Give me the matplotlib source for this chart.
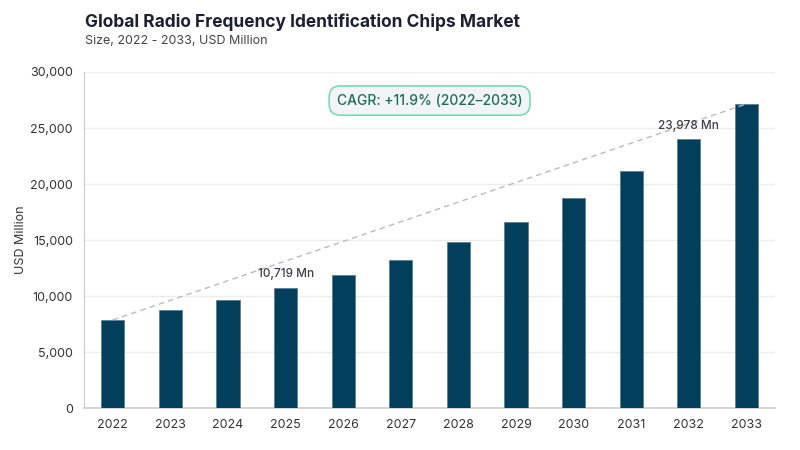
import matplotlib.pyplot as plt
from matplotlib.ticker import FuncFormatter

years = ['2022', '2023', '2024', '2025', '2026', '2027', '2028', '2029', '2030', '2031', '2032', '2033']
market_size = [7860, 8730, 9650, 10719, 11880, 13250, 14830, 16620, 18760, 21170, 23978, 27150]
labelled_years = ['2025', '2032']
cagr_text = 'CAGR: +11.9% (2022–2033)'

plt.rcParams['font.family'] = ['Inter', 'DejaVu Sans']

fig = plt.figure(figsize=(8, 4.5), dpi=100)
ax = fig.add_axes([0.105, 0.0933, 0.864, 0.7467])

x = list(range(len(years)))
ax.bar(x, market_size, width=0.4, color='#013f5c', edgecolor='#5f7f92', linewidth=0.6, zorder=3)

# dashed trend line from first to last bar
ax.plot([x[0], x[-1]], [market_size[0], market_size[-1]], linestyle=(0, (4, 3)),
        color='#bbbbbb', linewidth=1, zorder=4)

for i, yr in enumerate(years):
    if yr in labelled_years:
        ax.text(i, market_size[i] + 700, f'{market_size[i]:,} Mn', ha='center', va='bottom',
                fontsize=8.5, fontweight='medium', color='#3a3f4a', zorder=5)

ax.set_xlim(-0.5, len(years) - 0.5)
ax.set_ylim(0, 30000)
ax.set_yticks(range(0, 30001, 5000))
ax.yaxis.set_major_formatter(FuncFormatter(lambda v, p: f'{int(v):,}'))
ax.set_xticks(x)
ax.set_xticklabels(years)
ax.tick_params(axis='both', labelsize=9, colors='#333333', length=0)
ax.tick_params(axis='x', pad=8)
ax.tick_params(axis='y', pad=8)
ax.grid(axis='y', color='#ececec', linewidth=1, zorder=0)
for s in ['top', 'right']:
    ax.spines[s].set_visible(False)
ax.spines['left'].set_color('#c8ccd6')
ax.spines['bottom'].set_color('#c8ccd6')
ax.spines['bottom'].set_linewidth(1.2)
ax.set_ylabel('USD Million', fontsize=9, color='#333333')
ax.yaxis.set_label_coords(-0.082, 0.5)

ax.text(0.5, 0.915, cagr_text, transform=ax.transAxes, ha='center', va='center',
        fontsize=10, fontweight='medium', color='#1a6e52', zorder=6,
        bbox=dict(boxstyle='round,pad=0.55,rounding_size=0.8', facecolor='#f1f5f5',
                  edgecolor='#7fd6b9', linewidth=1.2))

fig.text(0.106, 0.95, 'Global Radio Frequency Identification Chips Market', fontsize=12.5,
         fontweight='bold', color='#1c2033', va='center')
fig.text(0.106, 0.908, 'Size, 2022 - 2033, USD Million', fontsize=9, color='#444444', va='center')

fig.savefig('out.png', dpi=100)
